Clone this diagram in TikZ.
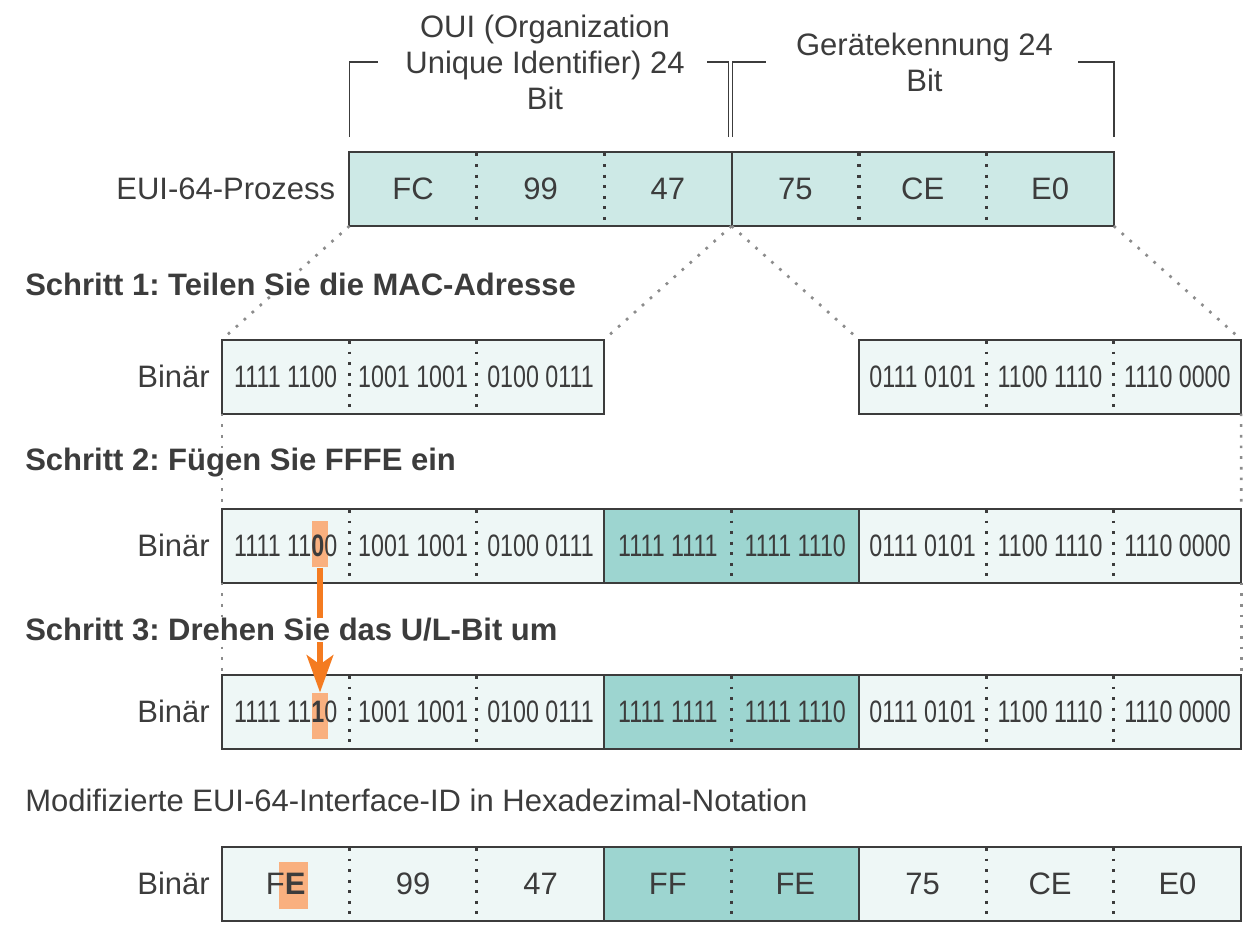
\documentclass[tikz,border=0pt]{standalone}
\usepackage{fontspec}
\setmainfont{Liberation Sans}
\newfontfamily\narrowfont[FakeStretch=0.75]{Liberation Sans}
\usetikzlibrary{positioning}
\usetikzlibrary{arrows.meta}

\definecolor{ink}{HTML}{3C3C3C}
\definecolor{ouifill}{HTML}{CDE9E6}
\definecolor{binfill}{HTML}{EEF7F6}
\definecolor{fffefill}{HTML}{9DD5D0}
\definecolor{flipfill}{HTML}{F9B07F}
\definecolor{fliporange}{HTML}{F47B20}
\definecolor{dotgray}{HTML}{8C8C8C}
\newcommand{\bigtext}{\fontsize{23.25}{27}\selectfont}

\pgfdeclarelayer{bg}
\pgfdeclarelayer{mark}
\pgfsetlayers{bg,mark,main}

\begin{document}
\frenchspacing
\begin{tikzpicture}[x=0.75pt, y=-0.75pt,
        hexcell/.style={rectangle, inner sep=0pt, outer sep=0pt, minimum width=95.55pt, minimum height=55.5pt, text=ink, font=\bigtext},
        bincell/.style={hexcell, font=\narrowfont\bigtext},
        plain/.style={inner sep=0pt, text=ink, font=\bigtext},
        heading/.style={inner sep=0pt, fill=white, text=ink, font=\bigtext\bfseries, anchor=west},
        rowline/.style={draw=ink, line width=1.5pt},
        bracket/.style={draw=ink, line width=1.3pt},
        sepdots/.style={draw=ink, line width=2.3pt, dash pattern=on 2.2pt off 5.73pt, dash phase=-1.1pt},
        guide/.style={draw=dotgray, line width=2pt, dash pattern=on 2pt off 6pt},
        flipmark/.style={rectangle, fill=flipfill, inner sep=0pt, minimum width=12pt, minimum height=35pt},
        fliparrow/.style={draw=fliporange, line width=3.8pt, -{Stealth[length=28pt, width=20pt, inset=7pt]}}
      ]
        \useasboundingbox (0,0) rectangle (1249,932);

        % MAC address, hex
        \node[hexcell] (oui1) at (413.1,189)         {FC};
        \node[hexcell] (oui2) [right=0pt of oui1]    {99};
        \node[hexcell] (oui3) [right=0pt of oui2]    {47};
        \node[hexcell] (dev1) [right=0pt of oui3]    {75};
        \node[hexcell] (dev2) [right=0pt of dev1]    {CE};
        \node[hexcell] (dev3) [right=0pt of dev2]    {E0};
        \node[plain]   (proc) [left=10.5pt of oui1]  {EUI-64-Prozess};

        \node[plain, align=center] (ouilbl) at (545,62)   {OUI (Organization\\Unique Identifier) 24\\Bit};
        \node[plain, align=center] (devlbl) at (924.5,62) {Gerätekennung 24\\Bit};

        \draw[bracket] ([yshift=11.25pt]oui1.north west) -- ++(0,-75) -- ++(29,0);
        \draw[bracket] ([xshift=-2.25pt, yshift=11.25pt]oui3.north east) -- ++(0,-75) -- ++(-22,0);
        \draw[bracket] ([xshift=0.75pt, yshift=11.25pt]dev1.north west) -- ++(0,-75) -- ++(33,0);
        \draw[bracket] ([yshift=11.25pt]dev3.north east) -- ++(0,-75) -- ++(-36,0);

        % step 1
        \node[bincell] (bin1a) at (285.7,376.5)      {1111 1100};
        \node[bincell] (bin1b) [right=0pt of bin1a]  {1001 1001};
        \node[bincell] (bin1c) [right=0pt of bin1b]  {0100 0111};
        \node[bincell] (bin1f) at (922.6,376.5)      {0111 0101};
        \node[bincell] (bin1g) [right=0pt of bin1f]  {1100 1110};
        \node[bincell] (bin1h) [right=0pt of bin1g]  {1110 0000};
        \node[plain]   (bin1)  [left=9pt of bin1a]   {Binär};

        % step 2
        \node[bincell] (bin2a) at (285.7,545.5)      {1111 11\textbf{0}0};
        \node[bincell] (bin2b) [right=0pt of bin2a]  {1001 1001};
        \node[bincell] (bin2c) [right=0pt of bin2b]  {0100 0111};
        \node[bincell] (bin2d) [right=0pt of bin2c]  {1111 1111};
        \node[bincell] (bin2e) [right=0pt of bin2d]  {1111 1110};
        \node[bincell] (bin2f) [right=0pt of bin2e]  {0111 0101};
        \node[bincell] (bin2g) [right=0pt of bin2f]  {1100 1110};
        \node[bincell] (bin2h) [right=0pt of bin2g]  {1110 0000};
        \node[plain]   (bin2)  [left=9pt of bin2a]   {Binär};

        % step 3
        \node[bincell] (bin3a) at (285.7,711.5)      {1111 11\textbf{1}0};
        \node[bincell] (bin3b) [right=0pt of bin3a]  {1001 1001};
        \node[bincell] (bin3c) [right=0pt of bin3b]  {0100 0111};
        \node[bincell] (bin3d) [right=0pt of bin3c]  {1111 1111};
        \node[bincell] (bin3e) [right=0pt of bin3d]  {1111 1110};
        \node[bincell] (bin3f) [right=0pt of bin3e]  {0111 0101};
        \node[bincell] (bin3g) [right=0pt of bin3f]  {1100 1110};
        \node[bincell] (bin3h) [right=0pt of bin3g]  {1110 0000};
        \node[plain]   (bin3)  [left=9pt of bin3a]   {Binär};

        % interface id
        \node[hexcell] (eui1) at (285.7,883.5)       {F\textbf{E}};
        \node[hexcell] (eui2) [right=0pt of eui1]    {99};
        \node[hexcell] (eui3) [right=0pt of eui2]    {47};
        \node[hexcell] (eui4) [right=0pt of eui3]    {FF};
        \node[hexcell] (eui5) [right=0pt of eui4]    {FE};
        \node[hexcell] (eui6) [right=0pt of eui5]    {75};
        \node[hexcell] (eui7) [right=0pt of eui6]    {CE};
        \node[hexcell] (eui8) [right=0pt of eui7]    {E0};
        \node[plain]   (bin4)  [left=9pt of eui1]    {Binär};

        \begin{pgfonlayer}{bg}
          \draw[rowline, fill=ouifill] (oui1.north west) rectangle (dev3.south east);
          \draw[rowline, fill=binfill] (bin1a.north west) rectangle (bin1c.south east);
          \draw[rowline, fill=binfill] (bin1f.north west) rectangle (bin1h.south east);
          \fill[binfill] (bin2a.north west) rectangle (bin2h.south east);
          \fill[fffefill] (bin2d.north west) rectangle (bin2e.south east);
          \draw[rowline] (bin2a.north west) rectangle (bin2h.south east);
          \fill[binfill] (bin3a.north west) rectangle (bin3h.south east);
          \fill[fffefill] (bin3d.north west) rectangle (bin3e.south east);
          \draw[rowline] (bin3a.north west) rectangle (bin3h.south east);
          \fill[binfill] (eui1.north west) rectangle (eui8.south east);
          \fill[fffefill] (eui4.north west) rectangle (eui5.south east);
          \draw[rowline] (eui1.north west) rectangle (eui8.south east);
        \end{pgfonlayer}

        % U/L bit
        \begin{pgfonlayer}{mark}
          \node[flipmark] (flip0) at (320,544) {};
          \node[flipmark] (flip1) at (320,716) {};
          \node[flipmark, minimum width=21.75pt] (flipE) at (293.5,885.5) {};
          \draw[fliparrow] (flip0.south) -- (flip1.north);
        \end{pgfonlayer}

        % cell borders
        \draw[rowline] (oui3.north east) -- (oui3.south east);
        \draw[rowline] (bin2c.north east) -- (bin2c.south east)  (bin2e.north east) -- (bin2e.south east);
        \draw[rowline] (bin3c.north east) -- (bin3c.south east)  (bin3e.north east) -- (bin3e.south east);
        \draw[rowline] (eui3.north east) -- (eui3.south east)  (eui5.north east) -- (eui5.south east);

        \draw[sepdots] (oui1.north east) -- (oui1.south east)  (oui2.north east) -- (oui2.south east);
        \draw[sepdots] (dev1.north east) -- (dev1.south east)  (dev2.north east) -- (dev2.south east);
        \draw[sepdots] (bin1a.north east) -- (bin1a.south east)  (bin1b.north east) -- (bin1b.south east);
        \draw[sepdots] (bin1f.north east) -- (bin1f.south east)  (bin1g.north east) -- (bin1g.south east);
        \draw[sepdots] (bin2a.north east) -- (bin2a.south east)  (bin2b.north east) -- (bin2b.south east)
                       (bin2d.north east) -- (bin2d.south east)  (bin2f.north east) -- (bin2f.south east)
                       (bin2g.north east) -- (bin2g.south east);
        \draw[sepdots] (bin3a.north east) -- (bin3a.south east)  (bin3b.north east) -- (bin3b.south east)
                       (bin3d.north east) -- (bin3d.south east)  (bin3f.north east) -- (bin3f.south east)
                       (bin3g.north east) -- (bin3g.south east);
        \draw[sepdots] (eui1.north east) -- (eui1.south east)  (eui2.north east) -- (eui2.south east)
                       (eui4.north east) -- (eui4.south east)  (eui6.north east) -- (eui6.south east)
                       (eui7.north east) -- (eui7.south east);

        % guides between the steps
        \draw[guide] (oui1.south west) -- (bin1a.north west);
        \draw[guide] (oui3.south east) -- (bin1c.north east);
        \draw[guide] (dev1.south west) -- (bin1f.north west);
        \draw[guide] (dev3.south east) -- (bin1h.north east);
        \draw[guide] (bin1a.south west) -- (bin2a.north west);
        \draw[guide] (bin1h.south east) -- (bin2h.north east);
        \draw[guide] (bin2a.south west) -- (bin3a.north west);
        \draw[guide] (bin2h.south east) -- (bin3h.north east);

        \node[heading] (step1) at (25,284) {Schritt 1: Teilen Sie die MAC-Adresse};
        \node[heading] (step2) at (25,463) {Schritt 2: Fügen Sie FFFE ein};
        \node[heading] (step3) at (25,630) {Schritt 3: Drehen Sie das U/L-Bit um};
        \node[plain, anchor=west] (result) at (25,800) {Modifizierte EUI-64-Interface-ID in Hexadezimal-Notation};
      \end{tikzpicture}
\end{document}
